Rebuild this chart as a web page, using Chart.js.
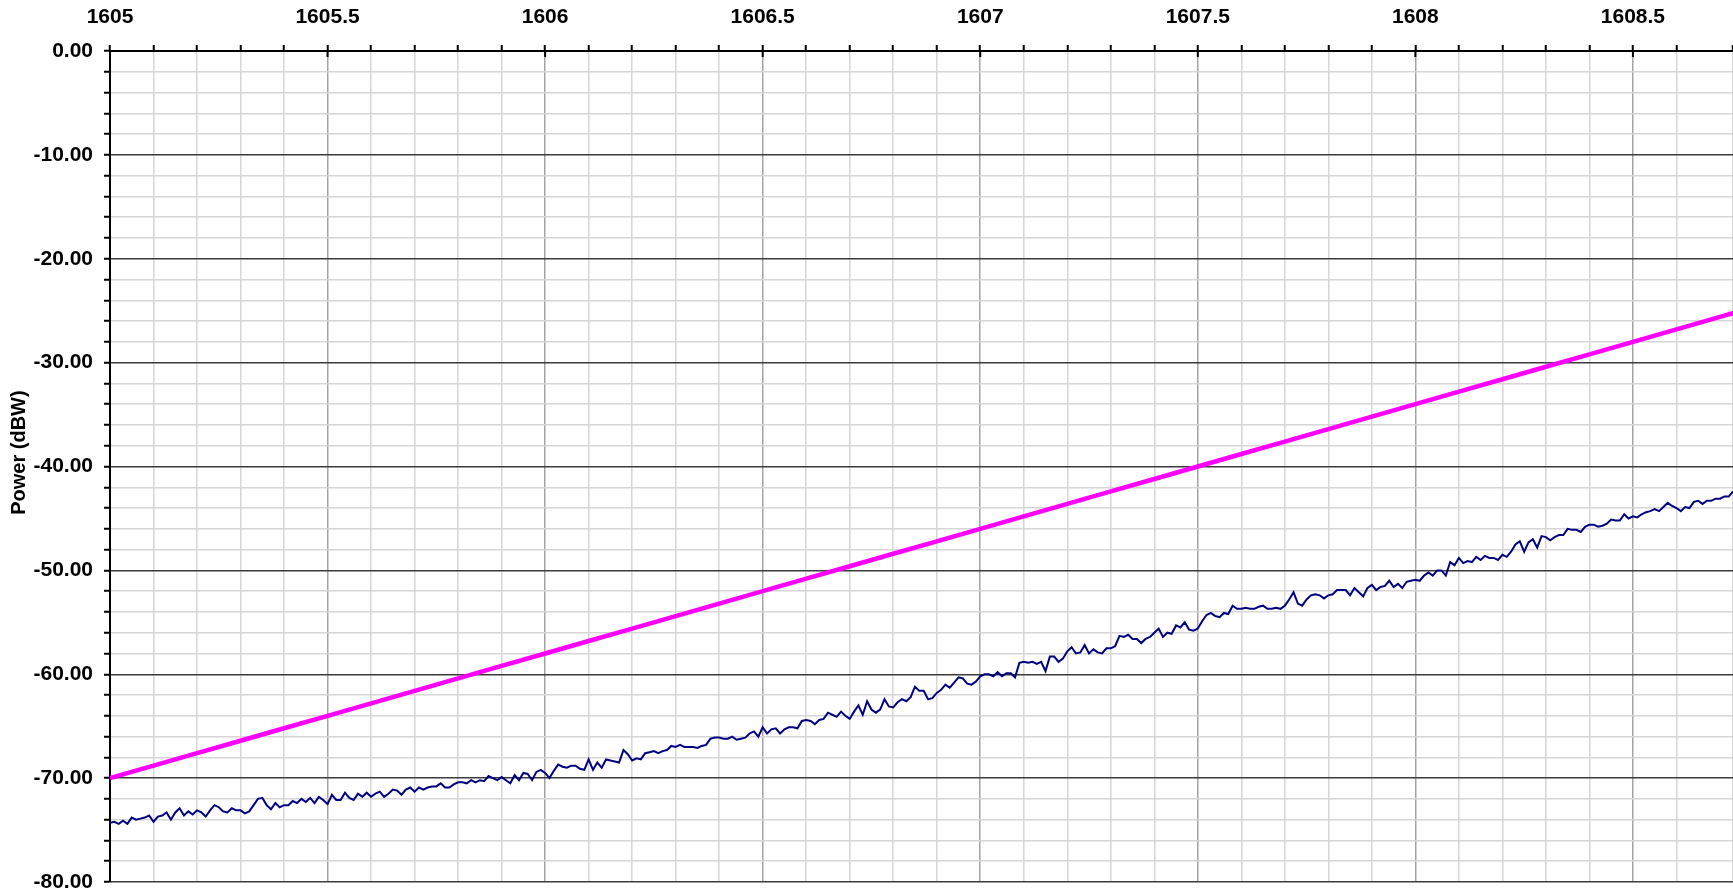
<!DOCTYPE html>
<html lang="en">
<head>
<title>Power vs wavelength</title>
<meta charset="UTF-8">
<script src="https://cdn.jsdelivr.net/npm/chart.js@4.4.1/dist/chart.umd.min.js"></script>
<style>
body {margin:0; background:#fff;}
#wrap {width:1733px; height:891px; position:relative;}
</style>
</head>
<body>
<div id="wrap"><canvas id="powerChart"></canvas></div>

<script>
// wavelength axis (nm)
var xMin = 1605, xMax = 1608.73;
var yMin = -80, yMax = 0;

// magenta trace, one reading every 0.1 nm from 1605.0
var magentaStart = 1605, magentaStep = 0.1;
var magentaPower = [
  -70.0, -68.8, -67.6, -66.4, -65.2, -64.0, -62.8, -61.6, -60.4, -59.2,
  -58.0, -56.8, -55.6, -54.4, -53.2, -52.0, -50.8, -49.6, -48.4, -47.2,
  -46.0, -44.8, -43.6, -42.4, -41.2, -40.0, -38.8, -37.6, -36.4, -35.2,
  -34.0, -32.8, -31.6, -30.4, -29.2, -28.0, -26.8, -25.6, -24.4
];

// navy trace, one reading every 0.01 nm from 1605.00
var navyStart = 1605, navyStep = 0.01;
var navyPower = [
  -74.3, -74.2, -74.4, -74.1, -74.4, -73.8, -74.0, -73.9, -73.8, -73.6,
  -74.2, -73.7, -73.6, -73.3, -74.0, -73.3, -72.9, -73.6, -73.2, -73.5,
  -73.1, -73.3, -73.7, -73.1, -72.6, -72.8, -73.2, -73.3, -72.9, -73.1,
  -73.1, -73.4, -73.2, -72.6, -72.0, -71.9, -72.6, -73.0, -72.4, -72.8,
  -72.6, -72.6, -72.2, -72.4, -72.0, -72.3, -71.9, -72.4, -71.8, -72.1,
  -72.5, -71.6, -72.1, -72.1, -71.4, -71.9, -72.1, -71.5, -71.8, -71.4,
  -71.8, -71.5, -71.3, -71.8, -71.5, -71.1, -71.2, -71.6, -71.1, -70.9,
  -71.3, -70.9, -71.1, -70.9, -70.8, -70.8, -70.5, -70.9, -70.9, -70.6,
  -70.4, -70.4, -70.5, -70.2, -70.4, -70.2, -70.3, -69.8, -70.0, -70.2,
  -69.9, -70.2, -70.5, -69.7, -70.2, -69.5, -69.6, -70.2, -69.4, -69.2,
  -69.5, -70.0, -69.3, -68.7, -68.9, -69.0, -68.8, -68.8, -69.1, -69.2,
  -68.2, -69.2, -68.5, -69.0, -68.2, -68.3, -68.4, -68.5, -67.3, -67.7,
  -68.3, -68.1, -68.2, -67.6, -67.5, -67.4, -67.6, -67.4, -67.3, -66.9,
  -67.0, -66.8, -67.0, -67.0, -67.0, -67.1, -66.9, -66.8, -66.2, -66.1,
  -66.1, -66.2, -66.2, -66.0, -66.3, -66.2, -66.1, -65.7, -65.5, -66.0,
  -65.1, -65.7, -65.3, -65.2, -65.7, -65.3, -65.1, -65.1, -65.2, -64.5,
  -64.4, -64.5, -64.8, -64.4, -64.3, -63.7, -63.9, -64.1, -63.6, -64.0,
  -64.3, -63.6, -63.0, -63.9, -62.6, -63.4, -63.7, -63.4, -62.4, -63.1,
  -63.2, -62.7, -62.4, -62.6, -62.2, -61.2, -61.6, -61.6, -62.4, -62.3,
  -61.8, -61.5, -61.0, -61.3, -60.8, -60.3, -60.4, -60.9, -61.0, -60.7,
  -60.2, -60.0, -60.0, -60.2, -59.8, -60.2, -59.9, -59.9, -60.3, -58.9,
  -58.8, -58.9, -58.8, -59.0, -58.8, -59.7, -58.3, -58.3, -58.8, -58.5,
  -57.8, -57.4, -58.0, -57.9, -57.2, -58.0, -57.6, -57.9, -58.0, -57.5,
  -57.5, -57.3, -56.3, -56.4, -56.2, -56.6, -56.6, -57.0, -56.6, -56.4,
  -56.0, -55.6, -56.4, -56.0, -56.1, -55.3, -55.5, -55.0, -55.7, -55.8,
  -55.6, -54.9, -54.3, -54.1, -54.4, -54.5, -54.1, -54.2, -53.4, -53.7,
  -53.7, -53.6, -53.7, -53.7, -53.5, -53.4, -53.7, -53.7, -53.6, -53.7,
  -53.4, -52.8, -52.1, -53.2, -53.4, -52.8, -52.4, -52.3, -52.4, -52.7,
  -52.4, -52.3, -51.9, -51.9, -51.9, -52.4, -51.7, -52.1, -52.5, -51.7,
  -51.4, -51.9, -51.6, -51.5, -51.0, -51.6, -51.3, -51.7, -51.1, -51.0,
  -50.9, -51.0, -50.5, -50.2, -50.5, -50.0, -50.0, -50.5, -49.2, -49.5,
  -48.8, -49.3, -49.1, -49.2, -48.7, -49.0, -48.6, -48.8, -48.8, -49.0,
  -48.5, -48.7, -48.2, -47.5, -47.2, -48.2, -47.3, -47.0, -47.8, -46.7,
  -46.8, -47.1, -46.8, -46.6, -46.6, -46.0, -46.1, -46.1, -46.3, -45.8,
  -45.6, -45.6, -45.8, -45.7, -45.5, -45.1, -45.2, -45.2, -44.6, -45.0,
  -44.8, -44.9, -44.6, -44.4, -44.3, -44.1, -44.3, -43.9, -43.5, -43.8,
  -44.0, -44.3, -43.9, -44.0, -43.4, -43.3, -43.6, -43.3, -43.3, -43.1,
  -43.1, -42.9, -42.9, -42.4
];

function toPoints(start, step, values) {
  var pts = [];
  for (var i = 0; i < values.length; i++) {
    pts.push({x: +(start + i * step).toFixed(2), y: values[i]});
  }
  return pts;
}

function isHalf(v) { return Math.round(v * 10) % 5 === 0; }

// the 0.5 nm ticks also poke a little way down into the plot
var majorTicks = {
  id: "majorTicks",
  afterDraw: function(chart) {
    var sx = chart.scales.x, c = chart.ctx, top = chart.chartArea.top;
    c.save();
    c.strokeStyle = "#000";
    c.lineWidth = 2;
    sx.ticks.forEach(function(t) {
      if (!isHalf(t.value)) return;
      var px = sx.getPixelForValue(t.value);
      c.beginPath(); c.moveTo(px, top); c.lineTo(px, top + 6); c.stroke();
    });
    c.restore();
  }
};

var labelFont = {family: "'Liberation Sans', Arial, sans-serif", size: 21, weight: 'bold', lineHeight: 1.0};

new Chart("powerChart", {
  type: "line",
  data: {
    datasets: [
      {
        label: "Navy",
        data: toPoints(navyStart, navyStep, navyPower),
        borderColor: "#000080",
        backgroundColor: "#000080",
        borderWidth: 2,
        pointRadius: 0,
        fill: false,
        tension: 0
      },
      {
        label: "Magenta",
        data: toPoints(magentaStart, magentaStep, magentaPower),
        borderColor: "#ff00ff",
        backgroundColor: "#ff00ff",
        borderWidth: 4.5,
        pointRadius: 0,
        fill: false,
        tension: 0
      }
    ]
  },
  options: {
    responsive: true,
    maintainAspectRatio: false,
    animation: false,
    layout: {padding: 0},
    plugins: {legend: {display: false}, tooltip: {enabled: false}},
    scales: {
      x: {
        type: "linear",
        position: "top",
        min: xMin,
        max: xMax,
        afterFit: function(s) { s.height = 51; s.paddingLeft = 0; s.paddingRight = 0; },
        border: {color: "#000", width: 2},
        grid: {
          color: function(c) { return c.tick && isHalf(c.tick.value) ? "#a3a3a3" : "#d6d6d6"; },
          lineWidth: 1.5,
          tickColor: "#000",
          tickWidth: 2,
          tickLength: 6
        },
        ticks: {
          stepSize: 0.1,
          autoSkip: false,
          maxRotation: 0,
          maxTicksLimit: 1000,
          padding: 17,
          color: "#000",
          font: labelFont,
          callback: function(v) {
            return isHalf(v) ? String(Math.round(v * 10) / 10) : "";
          }
        }
      },
      y: {
        min: yMin,
        max: yMax,
        afterFit: function(s) { s.width = 110; s.paddingBottom = 9; },
        border: {color: "#000", width: 2},
        grid: {
          color: function(c) { return c.tick && Math.round(c.tick.value) % 10 === 0 ? "#3c3c3c" : "#d6d6d6"; },
          lineWidth: 1.5,
          tickColor: "#000",
          tickWidth: 2,
          tickLength: 6
        },
        title: {
          display: true,
          // leading spaces lift the title a little above the axis centre, as in the original
          text: "\u00a0\u00a0\u00a0\u00a0\u00a0Power (dBW)",
          color: "#000",
          padding: {top: 7, bottom: 0},
          font: {family: "'Liberation Sans', Arial, sans-serif", size: 20, weight: 'bold'}
        },
        ticks: {
          stepSize: 2,
          autoSkip: false,
          maxTicksLimit: 1000,
          padding: 11,
          color: "#000",
          font: labelFont,
          callback: function(v) {
            return Math.round(v) % 10 === 0 ? v.toFixed(2) : "";
          }
        }
      }
    }
  },
  plugins: [majorTicks]
});
</script>
</body>
</html>
